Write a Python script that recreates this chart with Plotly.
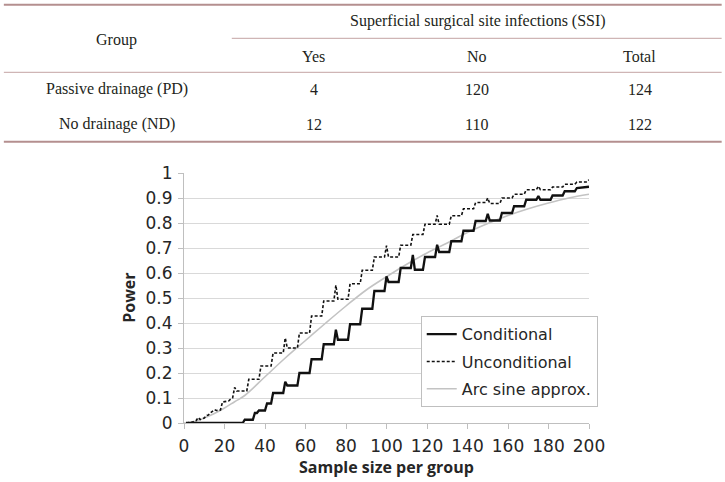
import plotly.graph_objects as go

# ---------------- data ----------------
table_cols = ["Yes", "No", "Total"]
table_groups = ["Passive drainage (PD)", "No drainage (ND)"]
table_yes = [4, 12]
table_no = [120, 110]
table_total = [124, 122]

cond_n = [1, 29, 30, 34, 35, 36, 37, 40, 41, 43, 44, 49, 50, 51, 56, 57, 62, 63, 68, 69,
          74, 75, 76, 81, 82, 87, 88, 93, 94, 99, 100, 101, 106, 107, 112, 113, 114, 118, 119, 124,
          125, 126, 131, 132, 137, 138, 143, 144, 149, 150, 151, 156, 157, 162, 163, 168, 169, 174, 175, 176,
          181, 182, 187, 188, 193, 194, 200]
cond_p = [0, 0, 0.013, 0.013, 0.04, 0.04, 0.05, 0.05, 0.078, 0.078, 0.12, 0.12, 0.165, 0.15, 0.15, 0.2, 0.2, 0.255, 0.255, 0.315,
          0.315, 0.373, 0.333, 0.333, 0.395, 0.395, 0.457, 0.457, 0.528, 0.528, 0.586, 0.564, 0.564, 0.62, 0.62, 0.672, 0.613, 0.613, 0.664, 0.664,
          0.713, 0.684, 0.684, 0.727, 0.727, 0.769, 0.769, 0.808, 0.808, 0.837, 0.81, 0.81, 0.84, 0.84, 0.867, 0.867, 0.893, 0.893, 0.908, 0.893,
          0.893, 0.91, 0.91, 0.927, 0.927, 0.94, 0.945]

unc_n = [1, 4, 6, 7, 8, 10, 11, 12, 13, 14, 15, 16, 18, 19, 22, 23, 24, 25, 26, 31,
         32, 37, 38, 43, 44, 49, 50, 51, 56, 57, 62, 63, 68, 69, 74, 75, 76, 81, 82, 87,
         88, 93, 94, 99, 100, 101, 106, 107, 112, 113, 118, 119, 124, 125, 126, 131, 132, 137, 138, 143,
         144, 149, 150, 151, 156, 157, 162, 163, 168, 169, 174, 175, 176, 181, 182, 187, 188, 193, 194, 199, 200]
unc_p = [0, 0.003, 0.01, 0.022, 0.014, 0.02, 0.03, 0.032, 0.04, 0.045, 0.053, 0.05, 0.052, 0.084, 0.088, 0.095, 0.1, 0.142, 0.128, 0.128,
         0.175, 0.175, 0.228, 0.228, 0.28, 0.28, 0.34, 0.30, 0.30, 0.36, 0.36, 0.428, 0.428, 0.488, 0.488, 0.551, 0.495, 0.495, 0.557, 0.557,
         0.611, 0.611, 0.664, 0.664, 0.709, 0.664, 0.664, 0.711, 0.711, 0.754, 0.754, 0.795, 0.795, 0.83, 0.795, 0.795, 0.829, 0.829, 0.857, 0.857,
         0.882, 0.882, 0.9, 0.878, 0.878, 0.9, 0.9, 0.915, 0.915, 0.933, 0.933, 0.947, 0.933, 0.933, 0.944, 0.944, 0.955, 0.955, 0.964, 0.964, 0.973]

arc_n = [0, 5, 10, 15, 20, 25, 30, 40, 50, 60, 70, 80, 90, 100, 110, 120, 130, 140, 150, 160, 170, 180, 190, 200]
arc_p = [0, 0.005, 0.02, 0.038, 0.06, 0.085, 0.11, 0.185, 0.26, 0.33, 0.40, 0.468, 0.532, 0.585, 0.635, 0.68,
         0.72, 0.762, 0.798, 0.83, 0.857, 0.88, 0.90, 0.915]

x_ticks = [0, 20, 40, 60, 80, 100, 120, 140, 160, 180, 200]
y_ticks = [0, 0.1, 0.2, 0.3, 0.4, 0.5, 0.6, 0.7, 0.8, 0.9, 1]
y_tick_text = ["0", "0.1", "0.2", "0.3", "0.4", "0.5", "0.6", "0.7", "0.8", "0.9", "1"]

# ---------------- layout geometry ----------------
W, H = 725, 482
L, R, T, B = 184.2, 135.7, 172.7, 59.3
PW, PH = W - L - R, H - T - B


def px(x):
    return (x - L) / PW


def py(y):
    return (H - B - y) / PH


SANS = "Open Sans"
TICKF = "DejaVu Sans"
SERIF = "Liberation Serif"
TXT = "#262626"

fig = go.Figure()
fig.add_trace(go.Scatter(x=arc_n, y=arc_p, mode="lines", name="Arc sine approx.",
                         line=dict(color="#c3c3c3", width=1.6, shape="spline"),
                         legendrank=3, legendgroup="c"))
fig.add_trace(go.Scatter(x=unc_n, y=unc_p, mode="lines", name="Unconditional",
                         line=dict(color="#111111", width=1.6, dash="3px,2px"),
                         legendrank=2, legendgroup="b"))
fig.add_trace(go.Scatter(x=cond_n, y=cond_p, mode="lines", name="Conditional",
                         line=dict(color="#111111", width=2.3),
                         legendrank=1, legendgroup="a"))

# ---------------- table (annotations + rules) ----------------
ann = []
shapes = []
rule_thin = "#c4a3a3"
rule_thick = "#b48f8f"
for (x0, x1, y, w, c) in [(4, 722, 4.5, 2, rule_thick), (232, 722, 38, 1, rule_thin),
                          (4, 722, 72, 1, rule_thin), (4, 722, 141.5, 2, rule_thick)]:
    shapes.append(dict(type="line", xref="paper", yref="paper", x0=px(x0), x1=px(x1),
                       y0=py(y), y1=py(y), line=dict(color=c, width=w)))


def tnote(text, x, y):
    ann.append(dict(text=text, x=px(x), y=py(y), xref="paper", yref="paper",
                    xanchor="center", yanchor="middle", showarrow=False,
                    font=dict(family=SERIF, size=16, color="#231f20")))


col_x = [314, 477, 640]
tnote("Group", 117, 40)
tnote("Superficial surgical site infections (SSI)", 478, 21)
for cx, name in zip(col_x, table_cols):
    tnote(name, cx, 56)
row_y = [89, 124]
for i, ry in enumerate(row_y):
    tnote(table_groups[i], 117, ry)
    tnote(str(table_yes[i]), col_x[0], ry)
    tnote(str(table_no[i]), col_x[1], ry)
    tnote(str(table_total[i]), col_x[2], ry)

# axis titles
ann.append(dict(text="<b>Sample size per group</b>", x=0.5, y=py(467), xref="paper", yref="paper",
                xanchor="center", yanchor="middle", showarrow=False,
                font=dict(family=SANS, size=16, color=TXT)))
ann.append(dict(text="<b>Power</b>", x=px(129), y=0.5, xref="paper", yref="paper",
                xanchor="center", yanchor="middle", showarrow=False, textangle=-90,
                font=dict(family=SANS, size=16, color=TXT)))

fig.update_layout(
    width=W, height=H,
    margin=dict(l=L, r=R, t=T, b=B, pad=0),
    paper_bgcolor="white", plot_bgcolor="white",
    showlegend=True,
    legend=dict(x=px(421), y=py(316), xanchor="left", yanchor="top",
                bgcolor="white", bordercolor="#bfbfbf", borderwidth=1,
                font=dict(family=TICKF, size=16, color=TXT),
                tracegroupgap=3.5, traceorder="grouped"),
    annotations=ann, shapes=shapes,
    font=dict(family=SANS, size=16, color=TXT),
)
fig.update_xaxes(range=[0, 200], tickvals=x_ticks, showgrid=False, zeroline=False,
                 showline=True, linecolor="#bfbfbf", linewidth=1,
                 ticks="outside", ticklen=5, tickcolor="#bfbfbf", ticklabelstandoff=3,
                 tickfont=dict(family=TICKF, size=17, color=TXT))
fig.update_yaxes(range=[0, 1], tickvals=y_ticks, ticktext=y_tick_text, showgrid=True,
                 gridcolor="#d9d9d9", gridwidth=1, zeroline=False,
                 showline=True, linecolor="#bfbfbf", linewidth=1,
                 ticks="outside", ticklen=5, tickcolor="#bfbfbf", ticklabelstandoff=2,
                 tickfont=dict(family=TICKF, size=17, color=TXT))

fig.write_html("out.html")
